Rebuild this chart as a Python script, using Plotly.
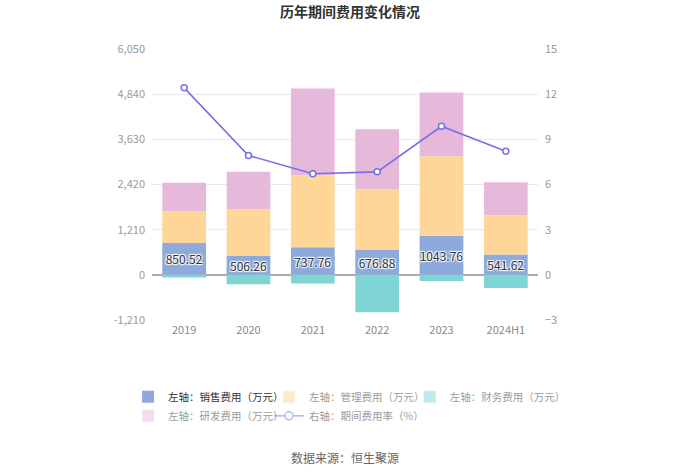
import plotly.graph_objects as go

categories = ["2019", "2020", "2021", "2022", "2023", "2024H1"]
sales = [850.52, 506.26, 737.76, 676.88, 1043.76, 541.62]
admin = [843, 1248, 1924, 1611, 2133, 1052]
finance = [-70, -249, -230, -1005, -168, -355]
rnd = [774, 1007, 2331, 1610, 1709, 889]
rate = [12.42, 7.93, 6.71, 6.84, 9.87, 8.21]

left_ticks = [-1210, 0, 1210, 2420, 3630, 4840, 6050]
left_ticktext = ["-1,210", "0", "1,210", "2,420", "3,630", "4,840", "6,050"]
right_ticks = [-3, 0, 3, 6, 9, 12, 15]

names = ["左轴：销售费用（万元）", "左轴：管理费用（万元）", "左轴：财务费用（万元）",
         "左轴：研发费用（万元）", "右轴：期间费用率（%）"]
colors = ["#8eaadc", "#fed798", "#7fd4d4", "#e6b9db"]
line_color = "#7670e6"
FONT = "Noto Sans CJK SC"

fig = go.Figure()
series = [sales, admin, finance, rnd]
for i, vals in enumerate(series):
    kw = {}
    if i == 0:
        kw = dict(text=[f"{v:.2f}" for v in vals], textposition="inside",
                  insidetextanchor="middle", constraintext="none", textangle=0,
                  textfont=dict(color="#333333", size=12, family=FONT,
                                shadow="1px 1px 1px #fff, -1px -1px 1px #fff, 1px -1px 1px #fff, -1px 1px 1px #fff"))
    fig.add_trace(go.Bar(x=categories, y=vals, name=names[i], marker_color=colors[i],
                         marker_line_width=0, showlegend=(i == 0), legend="legend",
                         legendrank=0, hoverinfo="skip", **kw))

fig.add_trace(go.Scatter(x=categories, y=rate, name=names[4], yaxis="y2", mode="lines+markers",
                         line=dict(color=line_color, width=1.6),
                         marker=dict(symbol="circle", size=6, color="white",
                                     line=dict(color=line_color, width=1.5)),
                         showlegend=False, hoverinfo="skip"))

# legend entries (faded items as in the reference), one legend per column
legend_of = {1: "legend2", 2: "legend3", 3: "legend"}
for i in range(1, 4):
    fig.add_trace(go.Bar(x=categories, y=series[i], name=names[i], marker_color=colors[i],
                         visible="legendonly", legend=legend_of[i], legendrank=i, yaxis="y"))
fig.add_trace(go.Scatter(x=categories, y=rate, name=names[4], yaxis="y2", mode="lines+markers",
                         line=dict(color=line_color, width=1.6),
                         marker=dict(symbol="circle", size=8, color="white",
                                     line=dict(color=line_color, width=1.5)),
                         visible="legendonly", legend="legend2", legendrank=4))

leg_common = dict(orientation="v", xanchor="left", y=-0.23, yanchor="top", itemwidth=30,
                  font=dict(size=10.5, color="#333333", family=FONT), tracegroupgap=0,
                  itemclick=False, itemdoubleclick=False, traceorder="normal",
                  bgcolor="rgba(0,0,0,0)")

fig.update_layout(
    width=700, height=474,
    margin=dict(l=152, r=162, t=49, b=154),
    paper_bgcolor="white", plot_bgcolor="white",
    barmode="relative", bargap=0.32,
    font=dict(family=FONT, size=12, color="#999999"),
    title=dict(text="<b>历年期间费用变化情况</b>", x=0.5, xanchor="center", y=0.975, yanchor="middle",
               font=dict(size=14, color="#333333", family=FONT)),
    xaxis=dict(type="category", showgrid=False, showline=False, ticks="",
               tickfont=dict(size=11, color="#888888"), ticklabelstandoff=2),
    yaxis=dict(range=[-1210, 6050], tickvals=left_ticks, ticktext=left_ticktext,
               showgrid=True, gridcolor="#e9e9f2", gridwidth=1,
               zeroline=True, zerolinecolor="#aaaaaa", zerolinewidth=1.5,
               tickfont=dict(size=11, color="#999999"), ticks="", ticklabelstandoff=6),
    yaxis2=dict(range=[-3, 15], tickvals=right_ticks, overlaying="y", side="right",
                showgrid=False, zeroline=False, ticks="",
                tickfont=dict(size=11, color="#999999"), ticklabelstandoff=6),
    legend=dict(x=-0.062, **leg_common),
    legend2=dict(x=0.303, **leg_common),
    legend3=dict(x=0.668, **leg_common),
    annotations=[dict(text="数据来源：恒生聚源", x=0.5, xref="paper", y=-0.509, yref="paper",
                      showarrow=False, xanchor="center", yanchor="middle",
                      font=dict(size=12, color="#666666", family=FONT))],
)

fig.write_html("out.html", config={"displayModeBar": False},
               post_script="document.body.style.margin='0px';")
